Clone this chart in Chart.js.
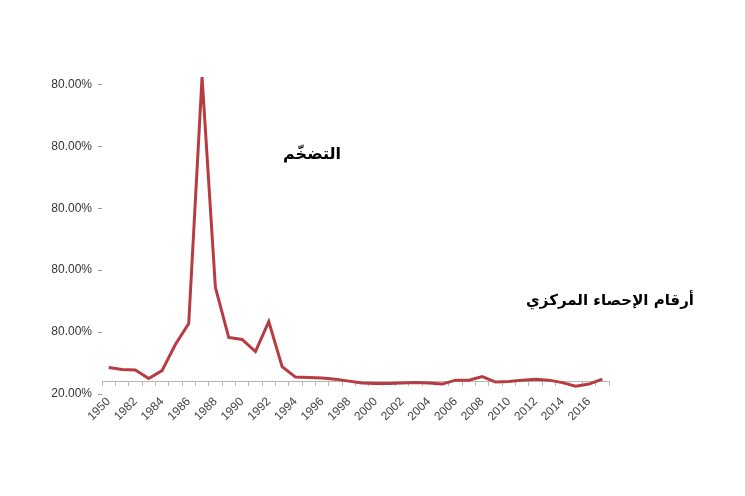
<!DOCTYPE html>
<html>
<head>
<meta charset="utf-8">
<script src="https://cdn.jsdelivr.net/npm/chart.js@4"></script>
<style>
  body { margin: 0; background: #fff; }
  #caja { position: relative; width: 745px; height: 496px; }
  .nota { position: absolute; transform: translate(-50%, -50%); font-family: "DejaVu Sans", sans-serif;
          font-weight: bold; font-size: 16px; color: #000; white-space: nowrap; direction: rtl; }
</style>
</head>
<body>
<div id="caja">
  <canvas id="linea" width="745" height="496"></canvas>
  <div class="nota" style="left:312px;top:153px;">التضخّم</div>
  <div class="nota" style="left:610px;top:300px;font-size:15px;">أرقام الإحصاء المركزي</div>
</div>
<script>
// años (la primera etiqueta sale asi en el original)
const anios = ['1950', '1981', '1982', '1983', '1984', '1985', '1986', '1987', '1988', '1989',
  '1990', '1991', '1992', '1993', '1994', '1995', '1996', '1997', '1998', '1999',
  '2000', '2001', '2002', '2003', '2004', '2005', '2006', '2007', '2008', '2009',
  '2010', '2011', '2012', '2013', '2014', '2015', '2016', '2017'];

// inflacion en %
const inflacion = [22.7, 19.4, 18.6, 4.9, 17.8, 59.9, 93.9, 491.9, 152, 71.2,
  68, 48.5, 97, 24.3, 7.3, 6.5, 5.7, 4, 0.8, -2.4,
  -3.2, -3.2, -2.4, -1.6, -2.4, -4, 2.4, 2.4, 8.1, -0.8,
  0, 2.4, 4, 2.4, -1.6, -7.3, -4, 4];

// marcas del eje y y su texto tal como aparece
const valoresY = [-20, 80, 180, 280, 380, 480];
const etiquetasY = ['20.00%', '80.00%', '80.00%', '80.00%', '80.00%', '80.00%'];

function linea() {
  const ctx = document.getElementById('linea');

  new Chart(ctx, {
    type: 'line',
    data: {
      labels: anios,
      datasets: [{
        data: inflacion,
        borderColor: '#b73c41',
        borderWidth: 3,
        pointRadius: 0,
        tension: 0
      }]
    },
    options: {
      responsive: false,
      animation: false,
      // el eje x centrado no ocupa espacio, se deja el hueco abajo
      layout: { padding: { top: 72, right: 136, bottom: 102, left: 0 } },
      plugins: { legend: { display: false }, tooltip: { enabled: false } },
      scales: {
        x: {
          position: { y: 0 }, // el eje cruza en cero
          offset: true,
          grid: { offset: true, drawOnChartArea: false, tickLength: 4, color: '#b5b5b5' },
          border: { color: '#b5b5b5' },
          ticks: {
            autoSkip: false, minRotation: 45, maxRotation: 45, padding: 9,
            color: '#444', font: { family: 'Liberation Sans', size: 12 },
            callback: (v, i) => (i % 2 === 0 ? anios[i] : '')
          }
        },
        y: {
          min: -20,
          max: 500,
          afterBuildTicks: s => { s.ticks = valoresY.map(v => ({ value: v })); },
          grid: { drawOnChartArea: false, tickLength: 4, color: '#999' },
          border: { display: false },
          ticks: {
            padding: 6, color: '#333', font: { family: 'Liberation Sans', size: 12 },
            callback: (v, i) => etiquetasY[i]
          },
          afterFit: s => { s.width = 102; }
        }
      }
    }
  });
}

linea();
</script>
</body>
</html>
